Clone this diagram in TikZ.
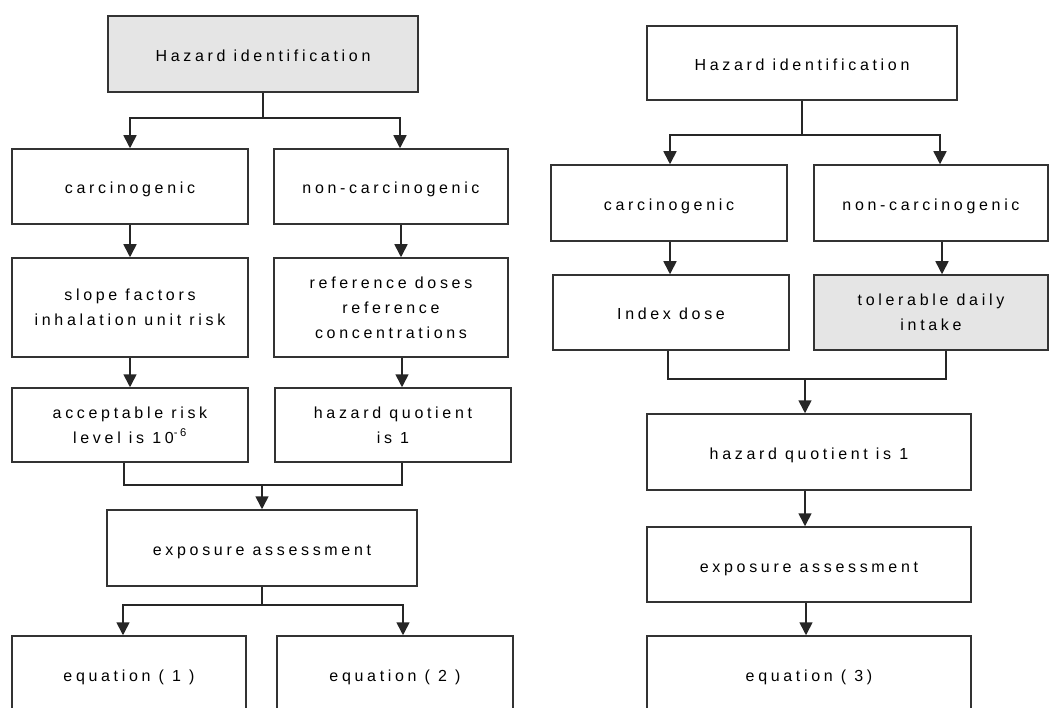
\documentclass[tikz,border=0pt]{standalone}
\usepackage{fontspec}
\setmainfont{Liberation Sans}[LetterSpace=23]
\usetikzlibrary{arrows.meta}
\begin{document}
\begin{tikzpicture}[x=1pt,y=-1pt,
  box/.style={draw=black!80, line width=1.5pt, fill=white, inner sep=0pt,
    align=center, font=\fontsize{16pt}{25pt}\selectfont},
  shaded/.style={box, fill=black!10},
  oneline/.style={text height=15pt, text depth=0pt},
  link/.style={draw=black!85, line width=1.6pt},
  arr/.style={link, -{Triangle[length=13pt,width=13pt]}}]
\useasboundingbox (0,0) rectangle (1049,708);
\clip (0,0) rectangle (1049,708);

% ---------- left flow: carcinogenic and non-carcinogenic ----------
\node[shaded, oneline, minimum width=310pt, minimum height=76pt] (hz1) at (263,54) {Hazard identification};
\node[box, oneline, minimum width=236pt, minimum height=75pt] (ca1) at (130,186.5) {carcinogenic};
\node[box, oneline, minimum width=234pt, minimum height=75pt] (nc1) at (391,186.5) {non-carcinogenic};
\node[box, minimum width=236pt, minimum height=99pt] (sf1) at (130,307.5) {slope factors\\inhalation unit risk};
\node[box, minimum width=234pt, minimum height=99pt] (rd1) at (391,307.5) {reference doses\\reference\\concentrations};
\node[box, minimum width=236pt, minimum height=74pt] (ar1) at (130,425) {acceptable risk\\level is 10\textsuperscript{-6}};
\node[box, minimum width=236pt, minimum height=74pt] (hq1) at (393,425) {hazard quotient\\is 1};
\node[box, oneline, minimum width=310pt, minimum height=76pt] (ex1) at (262,548) {exposure assessment};
\node[box, oneline, minimum width=234pt, minimum height=76pt] (eq1) at (129,674) {equation ( 1 )};
\node[box, oneline, minimum width=236pt, minimum height=76pt] (eq2) at (395,674) {equation ( 2 )};

\draw[link] (hz1.south) -- ++(0,25) coordinate (s1);
\draw[arr] (s1) -| (ca1.north);
\draw[arr] (s1) -| ([xshift=9pt]nc1.north);
\draw[arr] (ca1.south) -- (sf1.north);
\draw[arr] ([xshift=10pt]nc1.south) -- ([xshift=10pt]rd1.north);
\draw[arr] (sf1.south) -- (ar1.north);
\draw[arr] ([xshift=11pt]rd1.south) -- ([xshift=9pt]hq1.north);
\draw[link] ([xshift=-6pt]ar1.south) -- ++(0,22) coordinate (m1) -| ([xshift=9pt]hq1.south);
\draw[arr] (m1 -| ex1.north) -- (ex1.north);
\draw[link] (ex1.south) -- ++(0,18) coordinate (s2);
\draw[arr] (s2) -| ([xshift=-6pt]eq1.north);
\draw[arr] (s2) -| ([xshift=8pt]eq2.north);

% ---------- right flow: tolerable daily intake ----------
\node[box, oneline, minimum width=310pt, minimum height=74pt] (hz2) at (802,63) {Hazard identification};
\node[box, oneline, minimum width=236pt, minimum height=76pt] (ca2) at (669,203) {carcinogenic};
\node[box, oneline, minimum width=234pt, minimum height=76pt] (nc2) at (931,203) {non-carcinogenic};
\node[box, oneline, minimum width=236pt, minimum height=75pt] (id2) at (671,312.5) {Index dose};
\node[shaded, minimum width=234pt, minimum height=75pt] (td2) at (931,312.5) {tolerable daily\\intake};
\node[box, oneline, minimum width=324pt, minimum height=76pt] (hq2) at (809,452) {hazard quotient is 1};
\node[box, oneline, minimum width=324pt, minimum height=75pt] (ex2) at (809,564.5) {exposure assessment};
\node[box, oneline, minimum width=324pt, minimum height=76pt] (eq3) at (809,674) {equation ( 3)};

\coordinate (hq2in) at ([xshift=-4pt]hq2.north);
\draw[link] (hz2.south) -- ++(0,34) coordinate (s3);
\draw[arr] (s3) -| ([xshift=1pt]ca2.north);
\draw[arr] (s3) -| ([xshift=9pt]nc2.north);
\draw[arr] ([xshift=1pt]ca2.south) -- ([xshift=-1pt]id2.north);
\draw[arr] ([xshift=11pt]nc2.south) -- ([xshift=11pt]td2.north);
\draw[link] ([xshift=-3pt]id2.south) -- ++(0,28) coordinate (m2) -| ([xshift=15pt]td2.south);
\draw[arr] (m2 -| hq2in) -- (hq2in);
\draw[arr] ([xshift=-4pt]hq2.south) -- ([xshift=-4pt]ex2.north);
\draw[arr] ([xshift=-3pt]ex2.south) -- ([xshift=-3pt]eq3.north);
\end{tikzpicture}
\end{document}
